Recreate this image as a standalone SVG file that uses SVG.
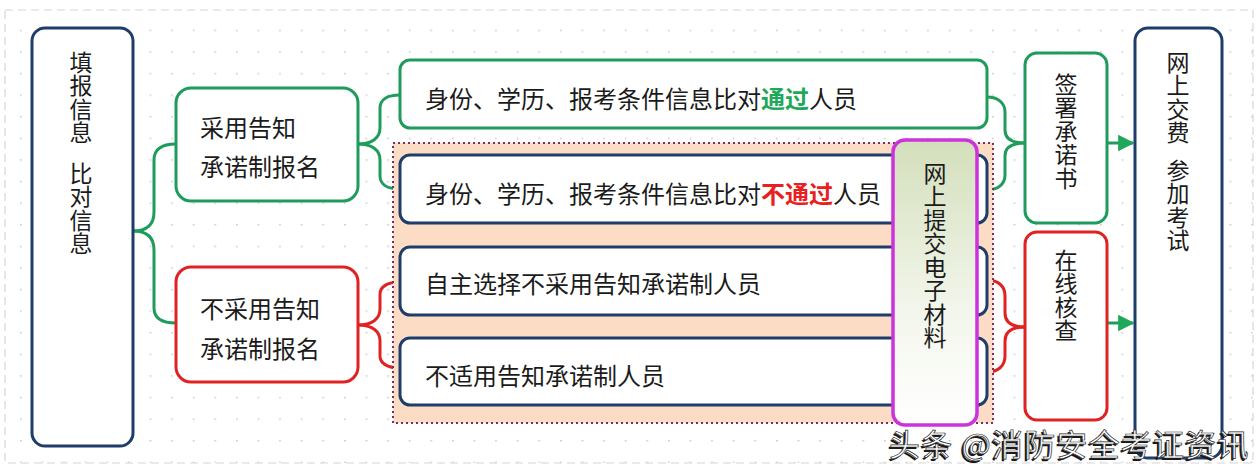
<svg xmlns="http://www.w3.org/2000/svg" width="1260" height="474" viewBox="0 0 1260 474">
<defs>
<pattern id="dots" x="20" y="8" width="21.6" height="21.6" patternUnits="userSpaceOnUse">
<circle cx="0.8" cy="0.8" r="0.9" fill="#c9c9c9"/>
</pattern>
<linearGradient id="mg" x1="0" y1="0" x2="0" y2="1">
<stop offset="0" stop-color="#d3dfbb"/>
<stop offset="0.6" stop-color="#f3f6ec"/>
<stop offset="1" stop-color="#ffffff"/>
</linearGradient>
<marker id="arr" viewBox="0 0 10 10" refX="9" refY="5" markerWidth="6" markerHeight="5.5" markerUnits="strokeWidth" orient="auto">
<path d="M0,0 L10,5 L0,10 Z" fill="#1fa85a"/>
</marker>
<style>
text{font-family:"Noto Sans CJK SC","Noto Sans",sans-serif;fill:#1b1b1b}
.big{font-size:24px;dominant-baseline:central}
.vt{font-size:23px;writing-mode:vertical-rl;letter-spacing:0.5px;dominant-baseline:central}
.navy{fill:#ffffff;stroke:#1f3d6b;stroke-width:3}
.gr{fill:#ffffff;stroke:#1f9c5c;stroke-width:3}
.rd{fill:#ffffff;stroke:#e02222;stroke-width:3}
.cg{fill:none;stroke:#1f9c5c;stroke-width:3}
.cr{fill:none;stroke:#e02222;stroke-width:3}
.wm{font-size:31px;letter-spacing:1.2px;fill:#ffffff;stroke:#2a2a2a;stroke-width:0.7;dominant-baseline:central}
.wms{font-size:31px;letter-spacing:1.2px;fill:#1a1a1a;dominant-baseline:central}
</style>
</defs>
<rect x="0" y="0" width="1260" height="474" fill="#ffffff"/>
<rect x="5" y="10" width="1248" height="453" fill="url(#dots)" stroke="#d6d6d6" stroke-width="1.2" stroke-dasharray="8,5"/>

<g id="connectors">
<path class="cg" d="M133,231 C147,231 154,225 154,212 L154,160 C154,150 161,144 176,144"/>
<path class="cg" d="M133,231 C147,231 154,237 154,250 L154,308 C154,318 161,323 176,323"/>
<path class="cg" d="M358,144 C372,144 380,138 380,128 L380,108 C380,100 387,95 400,95"/>
<path class="cg" d="M358,144 C372,144 380,150 380,160 L380,176 C380,184 387,189 400,189"/>
<path class="cr" d="M358,325 C372,325 380,319 380,309 L380,294 C380,287 387,282 400,282"/>
<path class="cr" d="M358,325 C372,325 380,331 380,341 L380,356 C380,363 387,368 400,368"/>
<path class="cg" d="M987,97 C998,97 1005,103 1005,112 L1005,130 C1005,139 1012,143 1025,143"/>
<path class="cg" d="M987,190 C998,190 1005,184 1005,175 L1005,156 C1005,147 1012,143 1025,143"/>
<path class="cr" d="M987,280 C998,280 1005,286 1005,296 L1005,313 C1005,322 1012,327 1025,327"/>
<path class="cr" d="M987,372 C998,372 1005,366 1005,356 L1005,341 C1005,332 1012,327 1025,327"/>
<path class="cg" d="M1107,143 L1133,143" marker-end="url(#arr)"/>
<path class="cg" d="M1107,323 L1133,323" marker-end="url(#arr)"/>
</g>

<g id="node-fill-info">
<rect class="navy" x="32" y="28" width="101" height="418" rx="13"/>
<text class="vt" x="81" y="50.5">填报信息</text>
<text class="vt" x="81" y="161.5">比对信息</text>
</g>

<g id="node-adopt">
<rect class="gr" x="176" y="88" width="182" height="113" rx="15"/>
<text class="big" x="200" y="126">采用告知</text>
<text class="big" x="200" y="165">承诺制报名</text>
</g>

<g id="node-not-adopt">
<rect class="rd" x="176" y="267" width="182" height="115" rx="15"/>
<text class="big" x="200" y="307">不采用告知</text>
<text class="big" x="200" y="347">承诺制报名</text>
</g>

<g id="node-pass">
<rect class="gr" x="400" y="60" width="587" height="68" rx="10"/>
<text class="big" x="425" y="97">身份、学历、报考条件信息比对<tspan fill="#1fa85a" font-weight="bold">通过</tspan>人员</text>
</g>

<g id="group-electronic">
<rect x="393" y="143" width="600" height="280" fill="#fcdcc5" stroke="#7b2d5e" stroke-width="2" stroke-dasharray="2,3"/>
</g>

<g id="node-fail">
<rect class="navy" x="400" y="155" width="587" height="68" rx="10"/>
<text class="big" x="425" y="192">身份、学历、报考条件信息比对<tspan fill="#e82020" font-weight="bold">不通过</tspan>人员</text>
</g>

<g id="node-choose">
<rect class="navy" x="400" y="247" width="587" height="68" rx="10"/>
<text class="big" x="425" y="282">自主选择不采用告知承诺制人员</text>
</g>

<g id="node-notapply">
<rect class="navy" x="400" y="338" width="587" height="67" rx="10"/>
<text class="big" x="425" y="374">不适用告知承诺制人员</text>
</g>

<g id="node-submit">
<rect x="893" y="140" width="84" height="285" rx="12" fill="url(#mg)" stroke="#cc33dd" stroke-width="3.5"/>
<text class="vt" x="935" y="161.5">网上提交电子材料</text>
</g>

<g id="node-sign">
<rect class="gr" x="1025" y="53" width="82" height="170" rx="12"/>
<text class="vt" x="1066" y="72.5">签署承诺书</text>
</g>

<g id="node-check">
<rect class="rd" x="1025" y="232" width="82" height="188" rx="12"/>
<text class="vt" x="1066" y="248.5">在线核查</text>
</g>

<g id="node-pay">
<rect class="navy" x="1135" y="28" width="87" height="430" rx="13"/>
<text class="vt" x="1178" y="50.5">网上交费</text>
<text class="vt" x="1178" y="158.5">参加考试</text>
</g>

<g id="watermark">
<text class="wms" x="887" y="444.5">头条 @消防安全考证资讯</text>
<text class="wm" x="889" y="442">头条 @消防安全考证资讯</text>
</g>
</svg>
